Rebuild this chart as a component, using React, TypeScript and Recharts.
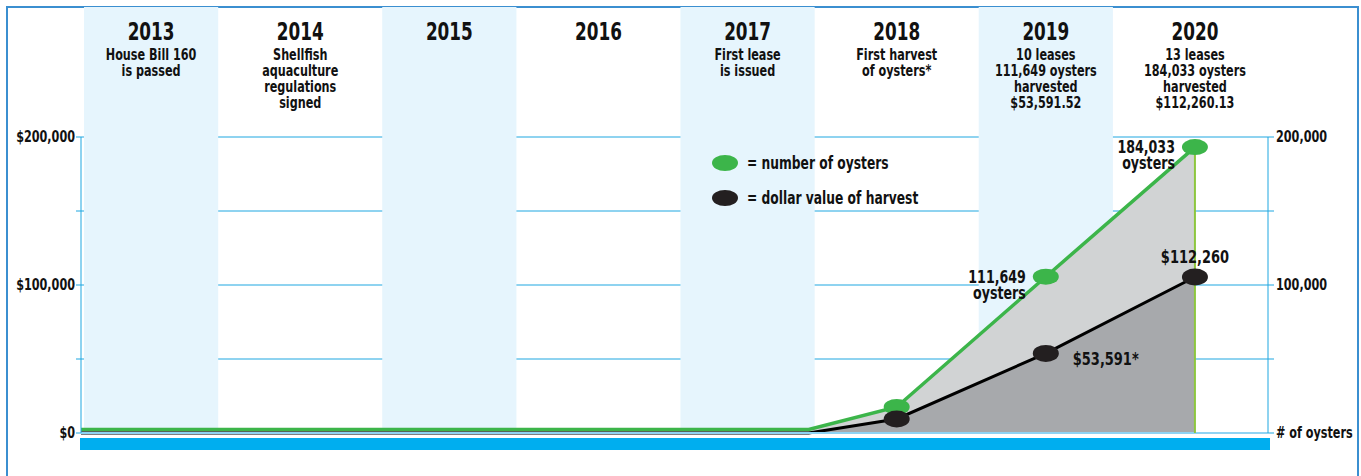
import React from 'react';
import {
  ComposedChart,
  Area,
  XAxis,
  YAxis,
  CartesianGrid,
  ReferenceArea,
  ReferenceLine,
} from 'recharts';

// timeline headers
const headerYears = [2013, 2014, 2015, 2016, 2017, 2018, 2019, 2020];
const headerNotes = [
  ['House Bill 160', 'is passed'],
  ['Shellfish', 'aquaculture', 'regulations', 'signed'],
  [],
  [],
  ['First lease', 'is issued'],
  ['First harvest', 'of oysters*'],
  ['10 leases', '111,649 oysters', 'harvested', '$53,591.52'],
  ['13 leases', '184,033 oysters', 'harvested', '$112,260.13'],
];
const shadedYears = [2013, 2015, 2017, 2019];

// series
const years = [2012.53, 2017.41, 2018, 2019, 2020];
const oysters = [2400, 2400, 17600, 105600, 193200];
const dollars = [0, 0, 9500, 53800, 105400];
const showMarker = [false, false, true, true, true];
const oysterLabels = ['', '', '', '111,649', '184,033'];
const dollarLabels = ['', '', '', '$53,591*', '$112,260'];

const yTicks = [0, 50000, 100000, 150000, 200000];
const leftTickLabels: Record<number, string> = { 0: '$0', 100000: '$100,000', 200000: '$200,000' };
const rightTickLabels: Record<number, string> = { 0: '# of oysters', 100000: '100,000', 200000: '200,000' };

const legendItems = [
  { color: '#3cb54a', text: '= number of oysters' },
  { color: '#231f20', text: '= dollar value of harvest' },
];

const data = years.map((year, i) => ({
  year,
  oysters: oysters[i],
  dollars: dollars[i],
}));

const FONT = '"Liberation Sans Narrow", "DejaVu Sans Condensed", "Roboto", sans-serif';
const GREEN = '#3cb54a';
const BLUE = '#1ea7e1';
const SQUEEZE = 0.78;

// condensed bold text (the original uses a condensed face)
const CText = ({ x, y, size, anchor = 'middle', children }: any) => (
  <text
    transform={`translate(${x},${y}) scale(${SQUEEZE},1)`}
    textAnchor={anchor}
    fontFamily={FONT}
    fontWeight={700}
    fontSize={size}
    fill="#111"
  >
    {children}
  </text>
);

const HeaderTick = (props: any) => {
  const { x, payload } = props;
  const i = headerYears.indexOf(payload.value);
  const notes = headerNotes[i] || [];
  return (
    <g>
      <CText x={x} y={40} size={24}>
        {payload.value}
      </CText>
      {notes.map((line, j) => (
        <CText key={j} x={x} y={60 + j * 16} size={16}>
          {line}
        </CText>
      ))}
    </g>
  );
};

const LeftTick = (props: any) => {
  const { x, y, payload } = props;
  const label = leftTickLabels[payload.value];
  if (!label) return <g />;
  return (
    <CText x={x} y={y + 5} size={16} anchor="end">
      {label}
    </CText>
  );
};

const RightTick = (props: any) => {
  const { x, y, payload } = props;
  const label = rightTickLabels[payload.value];
  if (!label) return <g />;
  return (
    <CText x={x} y={y + 5} size={16} anchor="start">
      {label}
    </CText>
  );
};

const OysterDot = (props: any) => {
  const { cx, cy, index } = props;
  if (!showMarker[index]) return <g key={`o-${index}`} />;
  const label = oysterLabels[index];
  return (
    <g key={`o-${index}`}>
      <ellipse cx={cx} cy={cy} rx={13} ry={8} fill={GREEN} />
      {label && (
        <g>
          <CText x={cx - 20} y={cy + 6} size={18} anchor="end">{label}</CText>
          <CText x={cx - 20} y={cy + 22} size={18} anchor="end">oysters</CText>
        </g>
      )}
    </g>
  );
};

const DollarDot = (props: any) => {
  const { cx, cy, index } = props;
  if (!showMarker[index]) return <g key={`d-${index}`} />;
  const label = dollarLabels[index];
  const last = index === years.length - 1;
  return (
    <g key={`d-${index}`}>
      <ellipse cx={cx} cy={cy} rx={13} ry={8.5} fill="#231f20" />
      {label && (
        <CText
          x={last ? cx : cx + 27}
          y={last ? cy - 14 : cy + 12}
          anchor={last ? 'middle' : 'start'}
          size={18.5}
        >
          {label}
        </CText>
      )}
    </g>
  );
};

const ColumnShade = (props: any) => (
  <rect x={props.x} y={7} width={props.width} height={426} fill="#e6f5fd" />
);

export default function App() {
  return (
    <div style={{ position: 'absolute', left: 0, top: 0, width: 1361, height: 476, background: '#fff' }}>
      <div
        style={{
          position: 'absolute',
          left: 6,
          top: 6,
          width: 1349,
          height: 480,
          borderTop: '2px solid #3b8fd0',
          borderLeft: '2px solid #3b8fd0',
          borderRight: '2px solid #3b8fd0',
        }}
      />
      <ComposedChart
        width={1361}
        height={476}
        data={data}
        margin={{ top: 7, right: 8, left: 6, bottom: 43 }}
      >
        {shadedYears.map((y) => (
          <ReferenceArea
            key={y}
            xAxisId="top"
            yAxisId="left"
            x1={y - 0.45}
            x2={y + 0.45}
            shape={<ColumnShade />}
          />
        ))}
        <CartesianGrid yAxisId="left" xAxisId="top" vertical={false} stroke={BLUE} strokeWidth={1} />
        <XAxis
          xAxisId="top"
          dataKey="year"
          type="number"
          orientation="top"
          domain={[2012.53, 2020.49]}
          ticks={headerYears}
          height={130}
          axisLine={false}
          tickLine={false}
          tick={<HeaderTick />}
          interval={0}
        />
        <YAxis
          yAxisId="left"
          domain={[0, 200000]}
          ticks={yTicks}
          width={75}
          axisLine={{ stroke: BLUE }}
          tickLine={{ stroke: BLUE }}
          tickSize={5}
          tickMargin={1}
          tick={<LeftTick />}
          interval={0}
        />
        <YAxis
          yAxisId="right"
          orientation="right"
          domain={[0, 200000]}
          ticks={yTicks}
          width={85}
          axisLine={{ stroke: BLUE }}
          tickLine={{ stroke: BLUE }}
          tickSize={6}
          tickMargin={2}
          tick={<RightTick />}
          interval={0}
        />
        <ReferenceLine xAxisId="top" yAxisId="left" y={0} stroke="#8fd3f3" strokeWidth={2} />
        <Area
          xAxisId="top"
          yAxisId="right"
          type="linear"
          dataKey="oysters"
          stroke={GREEN}
          strokeWidth={3.5}
          fill="#d1d3d4"
          fillOpacity={1}
          dot={OysterDot}
          activeDot={false}
          isAnimationActive={false}
        />
        <ReferenceLine
          xAxisId="top"
          yAxisId="right"
          segment={[
            { x: years[years.length - 1], y: 0 },
            { x: years[years.length - 1], y: oysters[oysters.length - 1] },
          ]}
          stroke="#8dc63f"
          strokeWidth={2}
        />
        <Area
          xAxisId="top"
          yAxisId="left"
          type="linear"
          dataKey="dollars"
          stroke="#000"
          strokeWidth={3}
          fill="#a7a9ac"
          fillOpacity={1}
          dot={DollarDot}
          activeDot={false}
          isAnimationActive={false}
        />
      </ComposedChart>
      <div style={{ position: 'absolute', left: 80, top: 438, width: 1190, height: 12, background: '#00aeef' }} />
      <svg width={260} height={80} style={{ position: 'absolute', left: 700, top: 140 }}>
        {legendItems.map((item, i) => (
          <g key={item.text}>
            <ellipse cx={25} cy={23 + i * 35} rx={13} ry={8} fill={item.color} />
            <CText x={47} y={29 + i * 35} size={17.5} anchor="start">
              {item.text}
            </CText>
          </g>
        ))}
      </svg>
    </div>
  );
}
